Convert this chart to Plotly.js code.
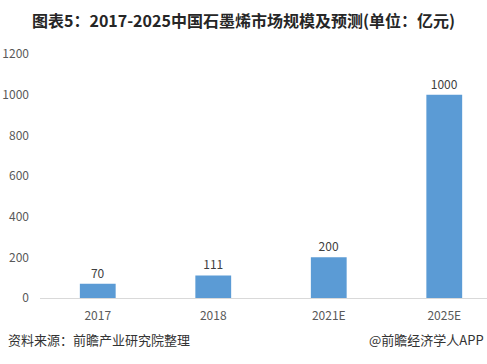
<!DOCTYPE html>
<html><head><meta charset="utf-8">
<script src="https://cdn.plot.ly/plotly-3.0.1.min.js"></script>
<style>html,body{margin:0;padding:0;background:#fff;}#chart{width:487px;height:364px;}</style>
</head><body><div id="chart"></div>
<script>
const categories = ["2017", "2018", "2021E", "2025E"];
const values = [70, 111, 200, 1000];
const yTicks = [0, 200, 400, 600, 800, 1000, 1200];

const FONT = "'Noto Sans CJK SC', 'Noto Sans', sans-serif";

const trace = {
  type: 'bar',
  x: categories,
  y: values,
  text: values.map(String),
  textposition: 'outside',
  textfont: {family: FONT, size: 12, color: '#404040'},
  cliponaxis: false,
  marker: {color: '#5b9bd5'},
  width: 0.31,
  hoverinfo: 'none'
};

const layout = {
  width: 487, height: 364,
  margin: {l: 40, r: 0, t: 54, b: 66},
  paper_bgcolor: '#fff', plot_bgcolor: '#fff',
  showlegend: false,
  title: {text: '<b>图表5：2017-2025中国石墨烯市场规模及预测(单位：亿元)</b>',
    font: {family: FONT, size: 16, color: '#262626'}, x: 0.5, xanchor: 'center', y: 0.94, yanchor: 'middle', xref: 'container'},
  xaxis: {type: 'category', range: [-0.5, 3.37], showgrid: false, zeroline: false,
    showline: true, linecolor: '#d9d9d9', linewidth: 1, ticks: '', ticklabelstandoff: 7,
    tickfont: {family: FONT, size: 12, color: '#595959'}, fixedrange: true},
  yaxis: {range: [0, 1200], tickvals: yTicks, ticktext: yTicks.map(String), showgrid: false,
    zeroline: false, showline: false, ticks: '', ticklabelstandoff: 10,
    tickfont: {family: FONT, size: 12, color: '#595959'}, fixedrange: true},
  annotations: [
    {text: '资料来源：前瞻产业研究院整理', xref: 'paper', yref: 'paper', x: -0.076, y: -0.17,
     xanchor: 'left', yanchor: 'middle', showarrow: false, font: {family: FONT, size: 13, color: '#333'}},
    {text: '@前瞻经济学人APP', xref: 'paper', yref: 'paper', x: 0.998, y: -0.17,
     xanchor: 'right', yanchor: 'middle', showarrow: false, font: {family: FONT, size: 13, color: '#333'}}
  ]
};

Plotly.newPlot('chart', [trace], layout, {displayModeBar: false, staticPlot: true});
</script></body></html>
